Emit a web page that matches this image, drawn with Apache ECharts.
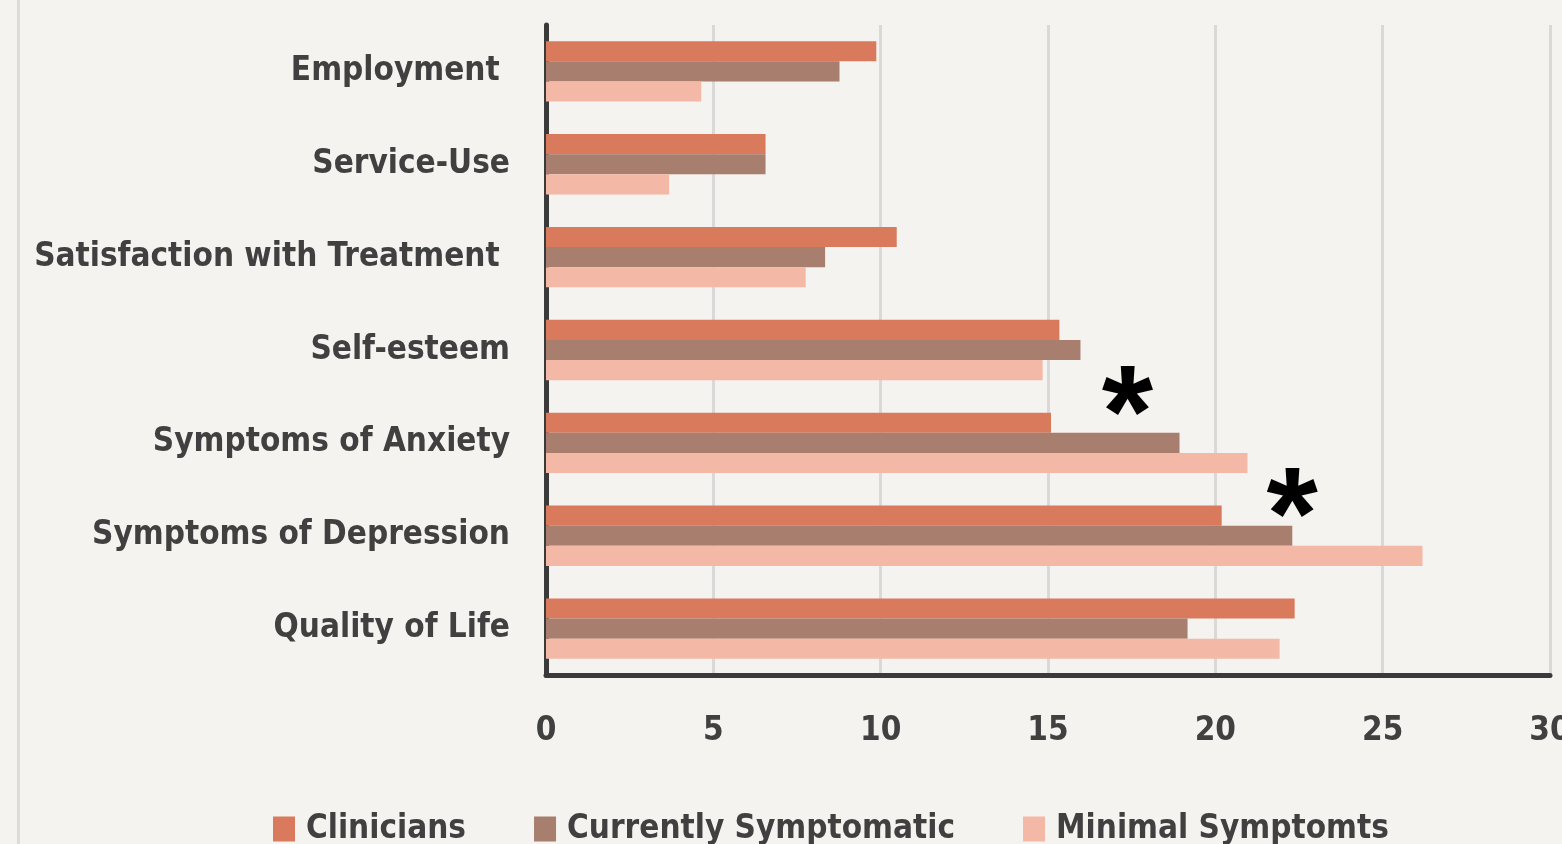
<!DOCTYPE html>
<html>
<head>
<meta charset="utf-8">
<script src="https://cdn.jsdelivr.net/npm/echarts@6/dist/echarts.min.js"></script>
<style>
  html, body { margin: 0; padding: 0; background: #F5F3EF; }
  #chart { width: 1562px; height: 844px; }
</style>
</head>
<body>
<div id="chart"></div>
<script>
const categories = ['Employment ', 'Service-Use', 'Satisfaction with Treatment ', 'Self-esteem', 'Symptoms of Anxiety', 'Symptoms of Depression', 'Quality of Life'];
const seriesNames = ['Clinicians', 'Currently Symptomatic', 'Minimal Symptomts'];
const clinicians = [9.87, 6.56, 10.48, 15.34, 15.09, 20.19, 22.37];
const currentlySymptomatic = [8.77, 6.56, 8.34, 15.97, 18.93, 22.3, 19.17];
const minimalSymptoms = [4.64, 3.68, 7.76, 14.84, 20.96, 26.19, 21.92];
const xTicks = [0, 5, 10, 15, 20, 25, 30];
const significance = [
  { value: 17.37, category: 'Symptoms of Anxiety' },
  { value: 22.3, category: 'Symptoms of Depression' }
];

const FONT = "'Liberation Sans Narrow', 'DejaVu Sans Condensed', sans-serif";
const colors = ['#D97A5D', '#A87E6E', '#F4B8A6'];
const TEXT = '#404040';

const chart = echarts.init(document.getElementById('chart'));
const values = [clinicians, currentlySymptomatic, minimalSymptoms];

const series = seriesNames.map((name, i) => {
  const s = {
    name: name,
    type: 'bar',
    data: values[i],
    barGap: '0%',
    barCategoryGap: '35%',
    itemStyle: { color: colors[i], borderRadius: 0 },
    emphasis: { disabled: true }
  };
  if (i === 1) {
    s.markPoint = {
      symbol: 'circle',
      symbolSize: 1,
      itemStyle: { color: 'rgba(0,0,0,0)' },
      label: {
        show: true,
        formatter: '*',
        fontFamily: "'Liberation Sans', sans-serif",
        fontWeight: 'bold',
        fontSize: 132,
        color: '#000'
      },
      data: [
        { coord: [significance[0].value, significance[0].category], label: { offset: [0, -22] } },
        { coord: [significance[1].value, significance[1].category], label: { offset: [0, -13] } }
      ]
    };
  }
  return s;
});

chart.setOption({
  backgroundColor: '#F5F3EF',
  animation: false,
  grid: { left: 546, right: 12, top: 25, bottom: 169, containLabel: false, outerBoundsMode: 'none' },
  legend: {
    data: seriesNames,
    left: 268,
    top: 806,
    width: 1250,
    itemWidth: 22,
    itemHeight: 25,
    itemGap: 68,
    icon: 'rect',
    textStyle: {
      fontFamily: FONT, fontWeight: 'bold', fontSize: 33, color: TEXT,
      padding: [0, 0, 0, 6], lineHeight: 36
    }
  },
  xAxis: {
    type: 'value',
    min: 0, max: 30, interval: 5,
    axisLine: { show: true, onZero: false, lineStyle: { color: '#3A3A3A', width: 5 } },
    axisTick: { show: false },
    splitLine: { show: true, lineStyle: { color: '#D9D9D9', width: 3 } },
    axisLabel: {
      margin: 40,
      fontFamily: FONT, fontWeight: 'bold', fontSize: 33, color: TEXT,
      formatter: v => xTicks.includes(v) ? String(v) : ''
    }
  },
  yAxis: {
    type: 'category',
    data: categories,
    inverse: true,
    axisLine: { show: true, lineStyle: { color: '#3A3A3A', width: 5 } },
    axisTick: { show: false },
    splitLine: { show: false },
    axisLabel: {
      margin: 36,
      fontFamily: FONT, fontWeight: 'bold', fontSize: 33, color: TEXT
    }
  },
  graphic: [
    { type: 'rect', shape: { x: 17, y: 0, width: 3, height: 844 }, style: { fill: '#DCDCDC' }, silent: true }
  ],
  series: series
});
</script>
</body>
</html>
